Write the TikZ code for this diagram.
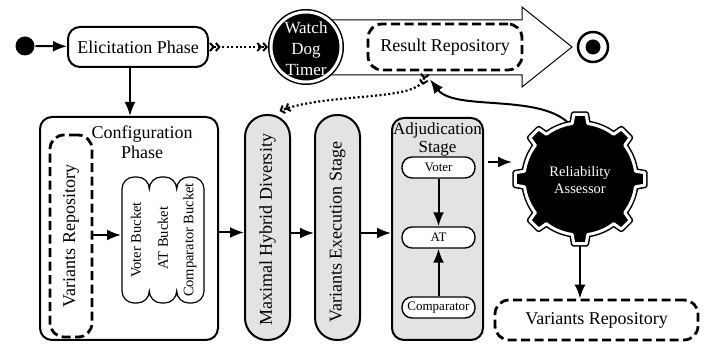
\documentclass[tikz,border=0pt]{standalone}
\usepackage{fontspec}
\setmainfont{Liberation Serif}
\usetikzlibrary{arrows.meta}
\begin{document}
\begin{tikzpicture}[x=1pt,y=1pt,line width=2pt,
  arr/.style={-{Latex[length=14pt,width=11pt]}},
  chv/.style={line width=2.2pt,dash pattern=on 2pt off 2.4pt,
    {Straight Barb[reversed,length=3.5pt,width=8pt,line width=2pt]Straight Barb[reversed,length=3.5pt,width=8pt,line width=2pt]}-{Straight Barb[length=3.5pt,width=8pt,line width=2pt]Straight Barb[length=3.5pt,width=8pt,line width=2pt]}},
  rbox/.style={draw,rounded corners=12pt,inner sep=0pt},
  gbox/.style={draw,fill=gray!22,inner sep=0pt},
  dbox/.style={draw,line width=2.8pt,dash pattern=on 9pt off 4.5pt,rounded corners=14pt,inner sep=0pt},
  small/.style={draw,fill=white,line width=1.4pt,rounded corners=10pt,minimum width=73pt,minimum height=21pt,inner sep=0pt,font=\fontsize{13}{15}\selectfont},
  txt/.style={inner sep=0pt,font=\fontsize{18}{20}\selectfont}]
\useasboundingbox (0,0) rectangle (710,347);
% big arrow
\draw[line width=1pt,fill=white] (320,327) -- (522,327) -- (522,340) -- (572,300) -- (522,260) -- (522,272) -- (320,272) -- cycle;
% start, elicitation
\node[circle,fill,minimum size=19pt,inner sep=0pt] (start) at (25,301) {};
\node[rbox,minimum width=140pt,minimum height=40pt,txt] (elic) at (138,300) {Elicitation Phase};
\draw[arr] (start) -- (elic);
% watch dog timer
\node[circle,fill=black,draw=black,line width=6pt,minimum size=70pt,inner sep=0pt] (wdt) at (306,300) {};
\draw[white,line width=3pt] (wdt.center) circle[radius=35pt];
\node[inner sep=0pt,text=white,align=center,font=\fontsize{17}{21}\selectfont] (wdtt) at (306,298) {Watch\\Dog\\Timer};
\draw[chv] (elic.east) -- (wdt.west);
% result repository
\node[dbox,minimum width=154pt,minimum height=46pt,txt] (rr) at (445,300) {Result Repository};
% end
\node[circle,draw,line width=2.5pt,minimum size=30pt,inner sep=0pt] (endn) at (593,300) {};
\node[circle,fill,minimum size=15pt,inner sep=0pt] (endd) at (endn) {};
% configuration phase
\node[rbox,minimum width=178pt,minimum height=223pt] (config) at (129,118.5) {};
\node[txt,align=center] (conft) at (142,205) {Configuration\\Phase};
\draw[arr] ([xshift=-8pt]elic.south) -- ([xshift=-8pt]elic.south |- config.north);
\node[dbox,minimum width=42pt,minimum height=202pt] (vr1) at (71,111) {};
\node[txt,rotate=90] (vr1t) at (71,111) {Variants Repository};
% bucket
\node[minimum width=82pt,minimum height=126pt,inner sep=0pt] (bucket) at (163,107) {};
\draw[fill=white,line width=1.2pt] (122,56) -- (122,158) arc[start angle=180,end angle=90,radius=12] -- (137.3,170) arc[start angle=90,end angle=0,radius=12]
  arc[start angle=180,end angle=90,radius=12] -- (164.7,170) arc[start angle=90,end angle=0,radius=12]
  arc[start angle=180,end angle=90,radius=12] -- (192,170) arc[start angle=90,end angle=0,radius=12]
  -- (204,56) arc[start angle=0,end angle=-90,radius=12] -- (188.7,44) arc[start angle=-90,end angle=-180,radius=12]
  arc[start angle=0,end angle=-90,radius=12] -- (161.3,44) arc[start angle=-90,end angle=-180,radius=12]
  arc[start angle=0,end angle=-90,radius=12] -- (134,44) arc[start angle=-90,end angle=-180,radius=12] -- cycle;
\node[inner sep=0pt,rotate=90,font=\fontsize{14.5}{16}\selectfont] (b1) at (136,107) {Voter Bucket};
\node[inner sep=0pt,rotate=90,font=\fontsize{14.5}{16}\selectfont] (b2) at (163,109) {AT Bucket};
\node[inner sep=0pt,rotate=90,font=\fontsize{14.5}{16}\selectfont] (b3) at (190,107) {Comparator Bucket};
\draw[arr] (vr1.east |- 0,112) -- (bucket.west |- 0,112);
% MHD, VES
\node[gbox,rounded corners=22pt,minimum width=45pt,minimum height=225pt] (mhd) at (267.5,119.5) {};
\node[txt,rotate=90] (mhdt) at (267.5,117) {Maximal Hybrid Diversity};
\node[gbox,rounded corners=22pt,minimum width=45pt,minimum height=225pt] (ves) at (337.5,119.5) {};
\node[txt,rotate=90] (vest) at (337.5,114.5) {Variants Execution Stage};
% adjudication
\node[gbox,rounded corners=12pt,minimum width=91pt,minimum height=222pt] (adj) at (437.5,118) {};
\node[txt,align=center,font=\fontsize{17}{18}\selectfont] (adjt) at (437.5,208) {Adjudication\\Stage};
\node[small] (voter) at (438.5,179.5) {Voter};
\node[small] (at) at (438.5,109.5) {AT};
\node[small] (comp) at (438.5,39.5) {Comparator};
\draw[arr] (voter) -- (at);
\draw[arr] (comp) -- (at);
\draw[arr] ([yshift=-4pt]config.east) -- ([yshift=-4pt]config.east -| mhd.west);
\draw[arr] ([yshift=-5.5pt]mhd.east) -- ([yshift=-5.5pt]mhd.east -| ves.west);
\draw[arr] ([yshift=-5.5pt]ves.east) -- ([yshift=-5.5pt]ves.east -| adj.west);
% gear
\node[circle,minimum size=134pt,inner sep=0pt] (gear) at (580,168) {};
\node[dbox,minimum width=203pt,minimum height=40pt,txt] (vr2) at (596.5,27) {Variants Repository};
\draw[arr] (gear.center) -- (gear.center |- vr2.north);
\draw[arr] ([yshift=67pt,xshift=4pt]adj.east) -- ([yshift=67pt]adj.east -| gear.west);
\coordinate (gtop) at (572,220);
\draw[arr] (gtop) .. controls (545,255) and (455,235) .. ([xshift=-15pt,yshift=-8pt]rr.south);
\draw[chv] ([xshift=-20pt,yshift=-2pt]rr.south) .. controls (420,245) and (330,255) .. ([xshift=12pt,yshift=3pt]mhd.north);
\begin{scope}[shift={(580,168)}]
\path[draw=black,fill=black,line width=6pt,line join=round] (-8:56) \foreach \a in {0,45,...,315}{ -- (\a-8:56) -- (\a-5.5:65) -- (\a+5.5:65) -- (\a+8:56) arc[start angle=\a+8,end angle=\a+37,radius=56]} -- cycle;
\path[draw=white,line width=3pt,line join=round] (-8:56) \foreach \a in {0,45,...,315}{ -- (\a-8:56) -- (\a-5.5:65) -- (\a+5.5:65) -- (\a+8:56) arc[start angle=\a+8,end angle=\a+37,radius=56]} -- cycle;
\end{scope}
\node[inner sep=0pt,text=white,align=center,font=\fontsize{14.5}{17}\selectfont] (gtxt) at (580,167) {Reliability\\Assessor};
\end{tikzpicture}
\end{document}
